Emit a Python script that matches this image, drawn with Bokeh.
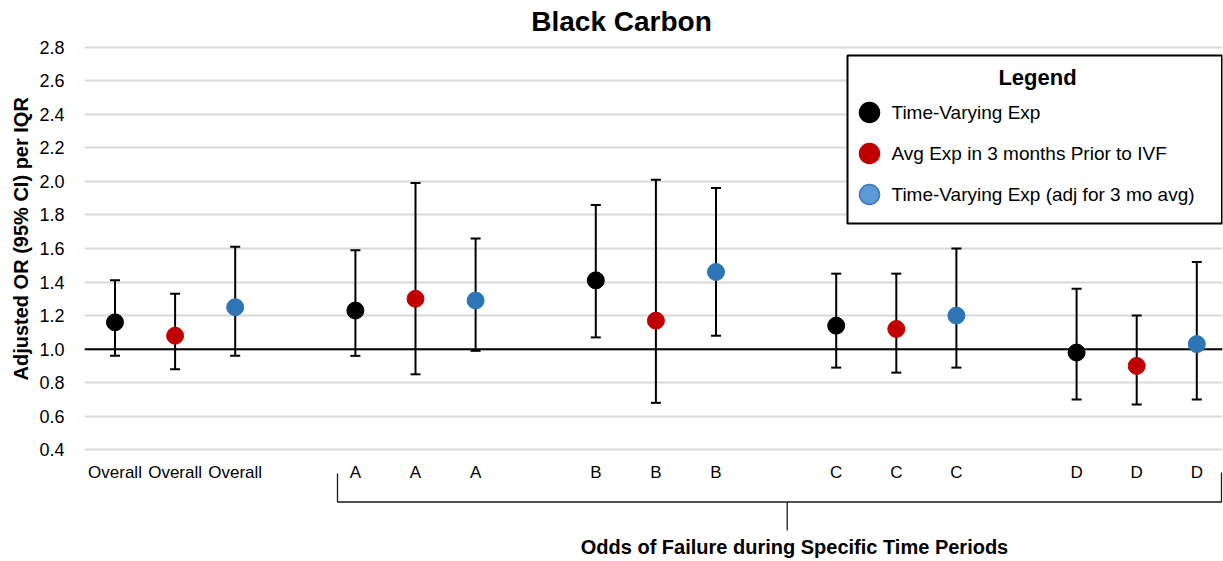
from bokeh.plotting import figure
from bokeh.models import Range1d, FixedTicker, Span, NumeralTickFormatter, Title
from bokeh.core.properties import value
from bokeh.embed import file_html
from bokeh.resources import INLINE

# ---------------- data ----------------
groups = ["Overall", "A", "B", "C", "D"]
series_names = ["Time-Varying Exp",
                "Avg Exp in 3 months Prior to IVF",
                "Time-Varying Exp (adj for 3 mo avg)"]

tv_or = [1.16, 1.23, 1.41, 1.14, 0.98]
tv_lo = [0.96, 0.96, 1.07, 0.89, 0.70]
tv_hi = [1.41, 1.59, 1.86, 1.45, 1.36]

avg_or = [1.08, 1.30, 1.17, 1.12, 0.90]
avg_lo = [0.88, 0.85, 0.68, 0.86, 0.67]
avg_hi = [1.33, 1.99, 2.01, 1.45, 1.20]

adj_or = [1.25, 1.29, 1.46, 1.20, 1.03]
adj_lo = [0.96, 0.99, 1.08, 0.89, 0.70]
adj_hi = [1.61, 1.66, 1.96, 1.60, 1.52]

y_ticks = [0.4, 0.6, 0.8, 1.0, 1.2, 1.4, 1.6, 1.8, 2.0, 2.2, 2.4, 2.6, 2.8]

title_text = "Black Carbon"
y_label = "Adjusted OR (95% CI) per IQR"
x_group_label = "Odds of Failure during Specific Time Periods"
legend_title = "Legend"

marker_colors = ["#000000", "#C00000", "#2E75B6"]
legend_fill = ["#000000", "#C00000", "#5B9BD5"]
legend_line = ["#000000", "#C00000", "#4472C4"]

# ---------------- layout helpers (pixel -> data) ----------------
W, H = 1223, 561
FL, FR = 84, 1222
PX_X0, PX_DX = 114.5, 60.1       # pixel of slot 0, pixels per slot
PX_Y28, PX_DY = 46.7, 167.75     # pixel of y=2.8, pixels per unit


def dx(px):
    return (px - PX_X0) / PX_DX


def dy(py):
    return 2.8 - (py - PX_Y28) / PX_DY


FONT = "Liberation Sans"

p = figure(width=W, height=H, title=None,
           x_range=Range1d(dx(FL), dx(FR)), y_range=Range1d(dy(H), dy(0)),
           x_axis_location=None, output_backend="svg", toolbar_location=None,
           min_border_left=FL, min_border_right=W - FR,
           min_border_top=0, min_border_bottom=0)
p.outline_line_color = None
p.background_fill_color = "white"
p.border_fill_color = "white"

# y axis
p.yaxis.ticker = FixedTicker(ticks=y_ticks)
p.yaxis.formatter = NumeralTickFormatter(format="0.0")
p.yaxis.axis_line_color = None
p.yaxis.major_tick_line_color = None
p.yaxis.minor_tick_line_color = None
p.yaxis.major_label_standoff = 14
p.yaxis.major_label_text_font = FONT
p.yaxis.major_label_text_font_size = "18px"
p.yaxis.major_label_text_color = "#000000"

# y axis title (vertical), placed in the left panel
ytitle = Title(text=y_label, align="left", offset=181, standoff=10,
               text_font=FONT, text_font_size="20px", text_font_style="bold",
               text_color="#000000")
p.add_layout(ytitle, "left")

p.xgrid.visible = False
p.ygrid.ticker = FixedTicker(ticks=y_ticks)
p.ygrid.grid_line_color = "#D9D9D9"
p.ygrid.grid_line_width = 2

ref = Span(location=1.0, dimension="width", line_color="black", line_width=2, level="underlay")
p.add_layout(ref)

# ---------------- error bars + points ----------------
all_or = [tv_or, avg_or, adj_or]
all_lo = [tv_lo, avg_lo, adj_lo]
all_hi = [tv_hi, avg_hi, adj_hi]
cap = 5.0 / PX_DX

slot_x = []
slot_lbl = []
for s in range(3):
    xs = [g * 4 + s for g in range(len(groups))]
    p.segment(x0=xs, y0=all_lo[s], x1=xs, y1=all_hi[s], line_color="black", line_width=2)
    p.segment(x0=[x - cap for x in xs], y0=all_hi[s], x1=[x + cap for x in xs], y1=all_hi[s],
              line_color="black", line_width=2)
    p.segment(x0=[x - cap for x in xs], y0=all_lo[s], x1=[x + cap for x in xs], y1=all_lo[s],
              line_color="black", line_width=2)
    p.scatter(x=xs, y=all_or[s], size=17, marker="circle",
              fill_color=marker_colors[s], line_color=marker_colors[s])
    for g in range(len(groups)):
        slot_x.append(g * 4 + s)
        slot_lbl.append(groups[g])

# category labels
p.text(x=slot_x, y=[dy(471.5)] * len(slot_x), text=slot_lbl,
       text_align="center", text_baseline="middle",
       text_font=value(FONT), text_font_size="17px", text_color="#000000")

# bracket
bx0, bx1, bxc = dx(337), dx(1221), dx(786.7)
p.multi_line(xs=[[bx0, bx0, bx1, bx1], [bxc, bxc]],
             ys=[[dy(473), dy(501.5), dy(501.5), dy(472)], [dy(501.5), dy(530)]],
             line_color="#1a1a1a", line_width=1.3)
p.text(x=[dx(794)], y=[dy(546)], text=[x_group_label],
       text_align="center", text_baseline="middle",
       text_font=value(FONT), text_font_size="20px", text_font_style="bold",
       text_color="#000000")

# title
p.text(x=[dx(621)], y=[dy(21)], text=[title_text],
       text_align="center", text_baseline="middle",
       text_font=value(FONT), text_font_size="28px", text_font_style="bold",
       text_color="#000000")

# legend box
p.quad(left=[dx(847)], right=[dx(1221.5)], top=[dy(55)], bottom=[dy(223)],
       fill_color="white", line_color="black", line_width=2)
p.text(x=[dx(1037)], y=[dy(77)], text=[legend_title],
       text_align="center", text_baseline="middle",
       text_font=value(FONT), text_font_size="22px", text_font_style="bold",
       text_color="#000000")
leg_y = [dy(112), dy(153), dy(194)]
for i in range(3):
    p.scatter(x=[dx(869)], y=[leg_y[i]], size=20, marker="circle",
              fill_color=legend_fill[i], line_color=legend_line[i], line_width=1.5)
p.text(x=[dx(891)] * 3, y=leg_y, text=series_names,
       text_align="left", text_baseline="middle",
       text_font=value(FONT), text_font_size="19px", text_color="#000000")

open("out.html", "w").write(file_html(p, INLINE))
